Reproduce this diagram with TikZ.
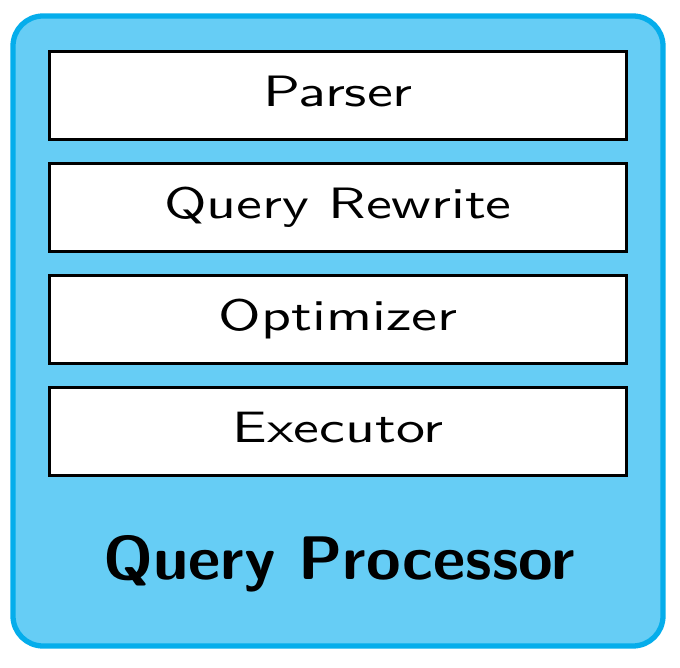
\documentclass[tikz,border=0pt]{standalone}
\usepackage{graphicx}
\usetikzlibrary{positioning}

\definecolor{qpborder}{HTML}{05ADEB}
\definecolor{qpfill}{HTML}{66CDF5}

\begin{document}
\begin{tikzpicture}[
    font=\sffamily,
    outerbox/.style={draw=qpborder, fill=qpfill, line width=3pt, rounded corners=0.6cm},
    stage/.style={draw=black, fill=white, line width=1.9pt, minimum width=11.54cm,
                  minimum height=1.76cm, inner sep=0pt, outer sep=0pt},
    title/.style={font=\sffamily\bfseries, inner sep=0pt}
]

% Text breit ziehen
\newcommand{\stagetext}[1]{\scalebox{3.3}[2.5]{#1\vphantom{Qy}}}
\newcommand{\titletext}[1]{\scalebox{3.58}[3.5]{#1}}

\useasboundingbox (0,0) rectangle (13.6,13.34);

% Hintergrund
\draw[outerbox] (0.26,0.42) rectangle (13.26,13.02);

% Stufen
\node[stage] (parser) at (6.76,11.43) {\stagetext{Parser}};
\node[stage, below=0.48cm of parser] (rewrite) {\stagetext{Query Rewrite}};
\node[stage, below=0.48cm of rewrite] (optimizer) {\stagetext{Optimizer}};
\node[stage, below=0.48cm of optimizer] (executor) {\stagetext{Executor}};

% Titel
\node[title, anchor=base] (qp) at (6.78,1.74) {\titletext{Query Processor}};

\end{tikzpicture}
\end{document}
